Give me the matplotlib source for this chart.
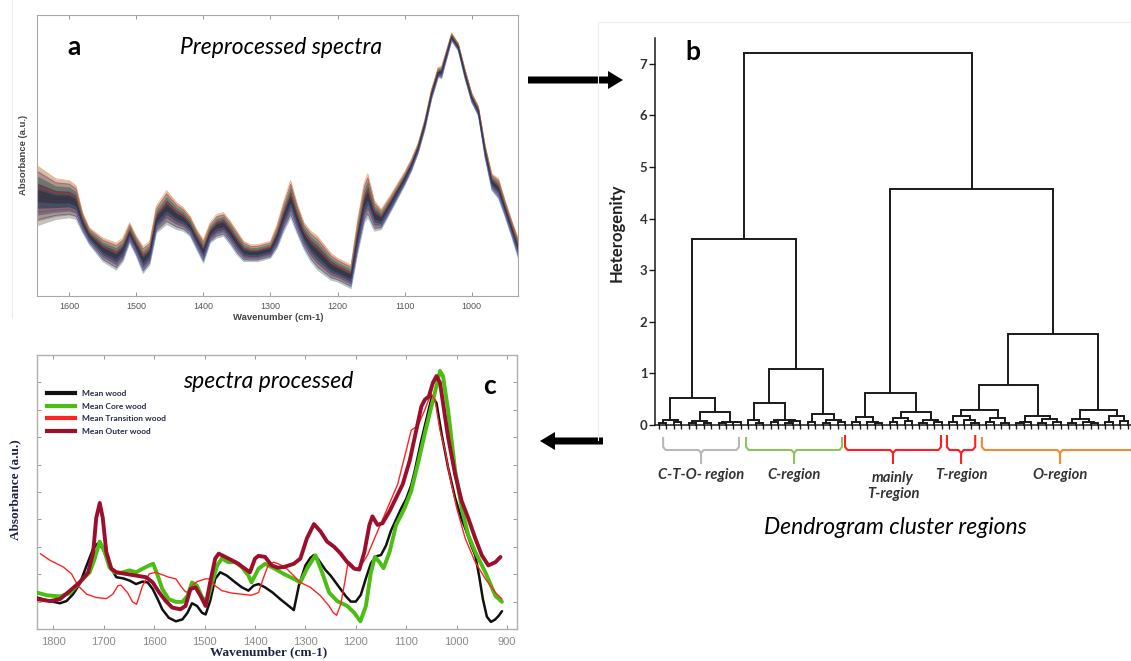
import numpy as np
import matplotlib
matplotlib.use("Agg")
import matplotlib.pyplot as plt
from matplotlib.lines import Line2D
from matplotlib.patches import FancyArrow

# ---------------- data: panel a (band of preprocessed spectra) ----------------
a_wavenumber = [1647, 1620, 1600, 1590, 1580, 1570, 1550, 1530, 1520, 1510, 1500, 1490, 1480, 1470,
                1455, 1440, 1430, 1420, 1410, 1400, 1390, 1380, 1370, 1360, 1350, 1340, 1330, 1320,
                1310, 1300, 1290, 1280, 1270, 1260, 1250, 1240, 1230, 1220, 1210, 1200, 1190, 1180,
                1170, 1160, 1155, 1145, 1135, 1120, 1100, 1090, 1080, 1070, 1060, 1050, 1045, 1040,
                1030, 1020, 1010, 1000, 990, 980, 970, 960, 950, 940, 930]
a_band_center = [297, 287, 287, 277, 217, 177, 137, 117, 137, 187, 147, 107, 127, 227,
                 262, 237, 227, 207, 167, 132, 187, 207, 212, 187, 157, 132, 127, 127,
                 132, 137, 177, 237, 287, 227, 177, 147, 127, 107, 87, 77, 67, 57,
                 177, 277, 297, 237, 227, 277, 347, 387, 437, 507, 597, 662, 662, 697,
                 767, 737, 657, 587, 547, 427, 337, 317, 257, 197, 137]
a_band_halfwidth = [88, 60, 55, 50, 30, 25, 35, 40, 35, 30, 30, 40, 35, 40,
                    50, 40, 35, 30, 30, 35, 30, 35, 35, 35, 35, 30, 25, 25,
                    25, 25, 35, 45, 55, 45, 40, 45, 50, 45, 40, 35, 35, 35,
                    50, 60, 65, 45, 30, 25, 20, 18, 15, 15, 15, 15, 18, 15,
                    12, 12, 15, 15, 15, 20, 25, 30, 25, 25, 30]
a_ticks = [1600, 1500, 1400, 1300, 1200, 1100, 1000]

# ---------------- data: panel c (mean spectra) ----------------
c_labels = ["Mean wood", "Mean Core wood", "Mean Transition wood", "Mean Outer wood"]
wn_mean = [1833, 1807, 1787, 1774, 1761, 1748, 1734, 1721, 1712, 1702, 1689, 1675, 1662, 1649, 1636, 1623,
           1613, 1603, 1593, 1584, 1571, 1557, 1544, 1534, 1525, 1515, 1505, 1498, 1489, 1479, 1469, 1456,
           1439, 1426, 1413, 1403, 1393, 1380, 1365, 1350, 1337, 1323, 1313, 1300, 1290, 1283, 1275, 1260,
           1250, 1240, 1230, 1220, 1210, 1200, 1190, 1180, 1170, 1160, 1150, 1140, 1130, 1120, 1110, 1100,
           1090, 1083, 1070, 1057, 1049, 1040, 1030, 1017, 1003, 990, 983, 970, 963, 955, 948, 940,
           932, 924, 917, 910]
abs_mean = [11.5, 10.2, 9.4, 10.2, 12.7, 16.4, 23.2, 29.4, 31.2, 29.4, 23.2, 18.9, 18.5, 17.7, 16.4, 17.3,
            17.0, 14.6, 10.9, 7.2, 4.1, 2.8, 3.5, 5.9, 9.4, 8.4, 5.9, 5.3, 10.2, 18.3, 20.7, 19.5,
            17.0, 15.2, 14.0, 15.8, 16.4, 15.2, 13.3, 10.9, 9.0, 6.9, 15.8, 23.2, 26.0, 27.0, 25.5, 21.5,
            19.5, 17.0, 14.5, 12.0, 10.0, 10.0, 12.5, 18.5, 24.0, 26.5, 27.0, 30.5, 36.0, 40.0, 44.0, 47.5,
            52.5, 57.8, 68.9, 78.8, 84.9, 82.5, 71.4, 59.0, 47.9, 40.0, 36.8, 30.0, 26.9, 19.0, 11.0, 4.5,
            2.6, 3.4, 4.7, 6.5]
wn_core = [1833, 1813, 1787, 1767, 1754, 1741, 1728, 1718, 1708, 1698, 1689, 1679, 1666, 1649, 1636, 1623,
           1610, 1602, 1593, 1584, 1571, 1557, 1544, 1534, 1525, 1515, 1505, 1495, 1485, 1475, 1466, 1453,
           1439, 1426, 1413, 1407, 1393, 1380, 1361, 1343, 1323, 1310, 1297, 1280, 1267, 1253, 1237, 1217,
           1203, 1191, 1180, 1170, 1162, 1153, 1145, 1133, 1120, 1103, 1090, 1077, 1063, 1050, 1040, 1033,
           1027, 1017, 1003, 990, 977, 963, 943, 923, 910]
abs_core = [13.3, 12.3, 11.9, 13.1, 15.8, 18.3, 20.7, 25.7, 31.9, 28.1, 22.6, 20.7, 20.5, 21.4, 20.7, 22.0,
            23.2, 23.8, 19.5, 14.6, 10.9, 9.9, 9.9, 12.1, 17.0, 15.8, 11.5, 10.2, 17.0, 23.2, 25.7, 24.4,
            24.4, 22.6, 19.5, 17.0, 22.0, 23.8, 22.0, 20.1, 18.3, 17.0, 22.0, 26.9, 20.7, 13.3, 10.2, 8.4,
            5.9, 2.8, 8.4, 20.7, 26.3, 24.4, 22.2, 28.1, 38.0, 44.2, 50.4, 60.2, 71.4, 81.2, 88.6, 94.2,
            92.3, 80.0, 58.0, 44.2, 34.3, 28.1, 20.7, 12.1, 9.9]
wn_transition = [1826, 1807, 1780, 1764, 1751, 1734, 1715, 1695, 1682, 1672, 1666, 1653, 1643, 1635, 1623,
                 1610, 1597, 1584, 1571, 1557, 1548, 1538, 1531, 1525, 1515, 1498, 1489, 1479, 1466, 1446,
                 1426, 1407, 1393, 1384, 1374, 1363, 1350, 1337, 1310, 1290, 1270, 1253, 1245, 1238, 1230,
                 1222, 1215, 1207, 1200, 1190, 1177, 1157, 1137, 1117, 1100, 1090, 1077, 1063, 1051, 1043,
                 1033, 1023, 1013, 1000, 983, 963, 943, 923, 910]
abs_transition = [27.5, 25.1, 22.6, 20.1, 15.8, 12.7, 11.5, 11.1, 12.7, 15.8, 16.0, 13.3, 9.9, 9.0, 15.8,
                  20.1, 20.7, 19.8, 18.9, 18.3, 15.8, 13.6, 13.3, 15.8, 17.3, 18.3, 18.3, 15.8, 14.0, 13.1,
                  12.7, 12.3, 13.3, 18.3, 23.2, 24.4, 23.5, 22.0, 17.0, 15.2, 12.1, 8.4, 6.0, 5.0, 9.0,
                  17.0, 24.7, 23.5, 21.7, 23.0, 26.9, 35.6, 44.2, 52.8, 65.2, 72.6, 74.1, 80.0, 85.9, 83.7,
                  72.6, 65.2, 55.3, 44.2, 33.1, 24.4, 18.3, 13.3, 10.9]
wn_outer = [1833, 1807, 1787, 1767, 1748, 1731, 1721, 1715, 1708, 1702, 1695, 1685, 1675, 1656, 1636, 1616,
            1603, 1590, 1577, 1564, 1548, 1538, 1528, 1518, 1508, 1498, 1489, 1479, 1472, 1459, 1446, 1433,
            1420, 1410, 1400, 1393, 1380, 1367, 1355, 1343, 1323, 1310, 1297, 1283, 1270, 1257, 1243, 1230,
            1217, 1203, 1193, 1183, 1173, 1167, 1157, 1147, 1133, 1120, 1107, 1093, 1080, 1070, 1063, 1055,
            1047, 1040, 1033, 1027, 1017, 1003, 990, 977, 963, 950, 937, 923, 913]
abs_outer = [10.9, 10.2, 10.9, 14.0, 17.0, 20.7, 28.1, 40.5, 46.0, 40.5, 28.1, 22.0, 20.7, 20.1, 19.5, 18.9,
             17.0, 13.3, 10.2, 7.8, 7.2, 8.4, 14.6, 15.2, 12.1, 8.4, 17.0, 25.7, 27.5, 26.3, 25.1, 23.8,
             22.0, 20.7, 25.7, 26.7, 26.3, 23.2, 22.4, 22.6, 23.8, 25.7, 33.1, 38.3, 35.6, 31.9, 30.0, 27.5,
             24.4, 22.0, 21.7, 28.1, 38.0, 41.1, 38.0, 38.6, 43.0, 47.9, 52.8, 61.5, 72.6, 81.2, 83.7, 84.9,
             89.9, 92.3, 89.9, 82.5, 70.1, 56.5, 46.7, 40.5, 33.1, 26.9, 23.2, 24.4, 26.3]
c_ticks = [1800, 1700, 1600, 1500, 1400, 1300, 1200, 1100, 1000, 900]

# ---------------- data: panel b (dendrogram, node = (height, left, right)) ----------------
LEAF = ()
cto_cluster = (0.53,
               (0.10, (0.04, LEAF, LEAF), (0.05, LEAF, LEAF)),
               (0.25, (0.07, (0.03, LEAF, LEAF), (0.04, LEAF, LEAF)),
                      (0.06, (0.03, LEAF, LEAF), (0.05, LEAF, LEAF))))
c_cluster = (1.08,
             (0.42, (0.09, LEAF, (0.04, LEAF, LEAF)),
                    (0.10, (0.05, LEAF, LEAF), (0.07, (0.03, LEAF, LEAF), LEAF))),
             (0.21, (0.06, LEAF, LEAF), (0.10, (0.04, LEAF, LEAF), (0.05, LEAF, LEAF))))
mainly_t_cluster = (0.62,
                    (0.15, (0.05, LEAF, LEAF), (0.06, LEAF, (0.03, LEAF, LEAF))),
                    (0.25, (0.14, (0.05, LEAF, LEAF), (0.08, LEAF, LEAF)),
                           (0.10, (0.04, LEAF, LEAF), (0.05, LEAF, LEAF))))
t_o_cluster = (0.77,
               (0.30, (0.18, (0.05, LEAF, LEAF), (0.10, LEAF, (0.04, LEAF, LEAF))),
                      (0.13, (0.05, LEAF, LEAF), (0.04, LEAF, LEAF))),
               (0.18, (0.06, (0.03, LEAF, LEAF), LEAF),
                      (0.12, (0.04, LEAF, LEAF), (0.05, LEAF, LEAF))))
o_cluster = (0.30,
             (0.12, (0.04, LEAF, LEAF), (0.06, LEAF, (0.03, LEAF, LEAF))),
             (0.18, (0.05, LEAF, LEAF), (0.07, LEAF, LEAF)))
dendro_root = (7.2, (3.6, cto_cluster, c_cluster),
                    (4.58, mainly_t_cluster, (1.77, t_o_cluster, o_cluster)))
b_yticks = [0, 1, 2, 3, 4, 5, 6, 7]

region_names = ["C-T-O- region", "C-region", "mainly\nT-region", "T-region", "O-region"]
region_start = [0.55, 11.7, 25.0, 38.7, 43.4]      # leaf index
region_end = [10.75, 24.6, 37.9, 42.5, 64.4]
region_colors = ["#b8b8b8", "#8fc35c", "#ff1f1f", "#ff1f1f", "#f58a30"]

# ---------------- figure ----------------
W, H = 1131, 661
fig = plt.figure(figsize=(W / 100, H / 100), dpi=100)
fig.patch.set_facecolor("white")


def px_axes(left, top, right, bottom):
    return fig.add_axes([left / W, 1 - bottom / H, (right - left) / W, (bottom - top) / H])


def ftext(x, y, s, **kw):
    return fig.text(x / W, 1 - y / H, s, **kw)


CAL = ["Lato", "DejaVu Sans"]

# ---------- panel a ----------
axA = px_axes(37, 15, 518, 296)
wa = np.array(a_wavenumber, float)
ca = np.array(a_band_center, float)
hw = np.array(a_band_halfwidth, float)
for frac, col in [(1.0, "#d3bfae"), (0.85, "#a8958c"), (0.65, "#7a6d74"), (0.42, "#4f4856"), (0.2, "#3b3846")]:
    axA.fill_between(wa, ca - frac * hw, ca + frac * hw, color=col, lw=0)
edge_cols = [("#f2a65a", 1.0), ("#9cc7e6", -1.0), ("#d1495b", 0.8), ("#2f6db5", -0.8),
             ("#3f9a4a", 0.55), ("#8c3b8c", -0.55), ("#c0392b", 0.3), ("#1f5fa8", -0.3)]
for col, frac in edge_cols:
    axA.plot(wa, ca + frac * hw, color=col, lw=0.5, alpha=0.9)
axA.plot(wa, ca, color="#34364a", lw=0.9)
axA.set_xlim(1648, 931)
axA.set_ylim(0, 832)
axA.set_xticks(a_ticks)
axA.set_yticks([])
axA.tick_params(axis="x", direction="in", length=3, width=0.6, color="#888", top=True,
                labelsize=6.5, labelcolor="#555", pad=4.5)
for lab in axA.get_xticklabels():
    lab.set_family(["Liberation Sans"])
for s in axA.spines.values():
    s.set_color("#a8a8a8")
    s.set_linewidth(0.8)
ftext(278, 317, "Wavenumber (cm-1)", ha="center", va="center", fontsize=6.8, fontweight="bold",
      color="#444", family=["Liberation Sans"])
ftext(24, 155, "Absorbance (a.u.)", ha="center", va="center", fontsize=6.8, fontweight="bold",
      color="#444", rotation=90, family=["Liberation Sans"])
ftext(74, 47, "a", ha="center", va="center", fontsize=19, fontweight="bold", family=CAL)
ftext(281, 47, "Preprocessed spectra", ha="center", va="center", fontsize=16.5, style="italic", family=CAL)

# ---------- panel c ----------
axC = px_axes(36.5, 355, 516.6, 629)
series = [(wn_mean, abs_mean, "#111111", 1.8),
          (wn_core, abs_core, "#4cbd12", 2.8),
          (wn_transition, abs_transition, "#ff2424", 1.0),
          (wn_outer, abs_outer, "#9c0f2c", 2.8)]
order = [3, 0, 1, 2]
for i in order:
    wn, ab, col, lw = series[i]
    axC.plot(wn, ab, color=col, lw=lw, solid_capstyle="round", solid_joinstyle="round", zorder=3 + i)
axC.set_xlim(1833.5, 881)
axC.set_ylim(0, 100)
axC.set_xticks(c_ticks)
axC.set_yticks([10, 20, 30, 40, 50, 60, 70, 80, 90])
axC.tick_params(axis="both", direction="in", length=3, width=0.7, color="#999", top=True, right=True,
                labelleft=False, labelsize=8, labelcolor="#8a8a8a", pad=6)
for lab in axC.get_xticklabels():
    lab.set_family(["Liberation Sans"])
for s in axC.spines.values():
    s.set_color("#b0b0b0")
    s.set_linewidth(1.0)
handles = [Line2D([], [], color=s[2], lw=3.0) for s in series]
leg = axC.legend(handles, c_labels, loc="upper left", bbox_to_anchor=(0.021, 0.872), frameon=False,
                 handlelength=3.4, handletextpad=0.8, labelspacing=0.68, borderpad=0, borderaxespad=0,
                 prop={"family": CAL, "weight": "bold", "size": 6.0})
for t in leg.get_texts():
    t.set_color("#262b4a")
ftext(269, 652, "Wavenumber (cm-1)", ha="center", va="center", fontsize=9.5, fontweight="bold",
      color="#1c2340", family=["Liberation Serif"])
ftext(15, 490, "Absorbance (a.u.)", ha="center", va="center", fontsize=9.5, fontweight="bold",
      color="#1c2340", rotation=90, family=["Liberation Serif"])
ftext(490, 386, "c", ha="center", va="center", fontsize=19, fontweight="bold", family=CAL)
ftext(268, 381, "spectra processed", ha="center", va="center", fontsize=16.5, style="italic", family=CAL)

# ---------- panel b ----------
axB = px_axes(655, 38, 1131, 425)
counter = [0]


def draw(node):
    if node == LEAF:
        x = counter[0]
        counter[0] += 1
        return x, 0.0
    h, left, right = node
    xl, hl = draw(left)
    xr, hr = draw(right)
    axB.plot([xl, xl, xr, xr], [hl, h, h, hr], color="#1a1a1a", lw=1.4, solid_joinstyle="miter",
             clip_on=False, zorder=3)
    return (xl + xr) / 2.0, h


draw(dendro_root)
n_leaves = counter[0]
axB.set_xlim(-0.54, 63.44)
axB.set_ylim(0, 7.5)
axB.set_xticks(range(n_leaves))
axB.set_xticklabels([])
axB.set_yticks(b_yticks)
axB.tick_params(axis="x", direction="out", length=3, width=1.0, color="#1a1a1a")
axB.tick_params(axis="y", direction="out", length=4, width=1.0, color="#1a1a1a",
                labelsize=9.5, labelcolor="#333", pad=1.5)
for lab in axB.get_yticklabels():
    lab.set_family(CAL)
    lab.set_fontweight("bold")
for side in ["top", "right"]:
    axB.spines[side].set_visible(False)
for side in ["left", "bottom"]:
    axB.spines[side].set_color("#1a1a1a")
    axB.spines[side].set_linewidth(1.1)
axB.patch.set_alpha(0)

ppu = 51.6  # pixels per height unit
for name, x0, x1, col in zip(region_names, region_start, region_end, region_colors):
    xc = (x0 + x1) / 2.0
    top = -(11 if "\n" in name or name == "T-region" else 13) / ppu
    yh = -25 / ppu
    yb = -38 / ppu
    d = 0.35
    axB.plot([x0, x0, x0 + d, xc - d, xc, xc], [top, yh + 3 / ppu, yh, yh, yh - 3 / ppu, yb],
             color=col, lw=1.5, clip_on=False, solid_joinstyle="round")
    axB.plot([x1, x1, x1 - d, xc + d, xc], [top, yh + 3 / ppu, yh, yh, yh - 3 / ppu],
             color=col, lw=1.5, clip_on=False, solid_joinstyle="round")
    ty = -(61 if "\n" in name else 50) / ppu
    axB.text(xc, ty, name, ha="center", va="center", fontsize=10.6, fontweight="bold", style="italic",
             color="#333", family=CAL, linespacing=1.25, clip_on=False)

ftext(693, 52, "b", ha="center", va="center", fontsize=19, fontweight="bold", family=CAL)
ftext(617, 233, "Heterogenity", ha="center", va="center", fontsize=12, fontweight="bold",
      rotation=90, color="#222", family=CAL)
ftext(895, 527, "Dendrogram cluster regions", ha="center", va="center", fontsize=16.5, style="italic",
      family=CAL)

# ---------- overlay: image borders & arrows ----------
ov = fig.add_axes([0, 0, 1, 1])
ov.set_xlim(0, W)
ov.set_ylim(H, 0)
ov.axis("off")
ov.patch.set_alpha(0)
ov.plot([12, 12], [0, 318], color="#ececec", lw=0.8)
ov.plot([598, 598, W], [440, 22, 22], color="#eeeeee", lw=0.8)
ov.add_patch(FancyArrow(528, 80, 80, 0, width=7, head_width=18, head_length=15,
                        length_includes_head=False, color="black", lw=0))
ov.add_patch(FancyArrow(603, 441, -48, 0, width=7, head_width=18, head_length=15,
                        length_includes_head=False, color="black", lw=0))

fig.savefig("out.png", dpi=100)
